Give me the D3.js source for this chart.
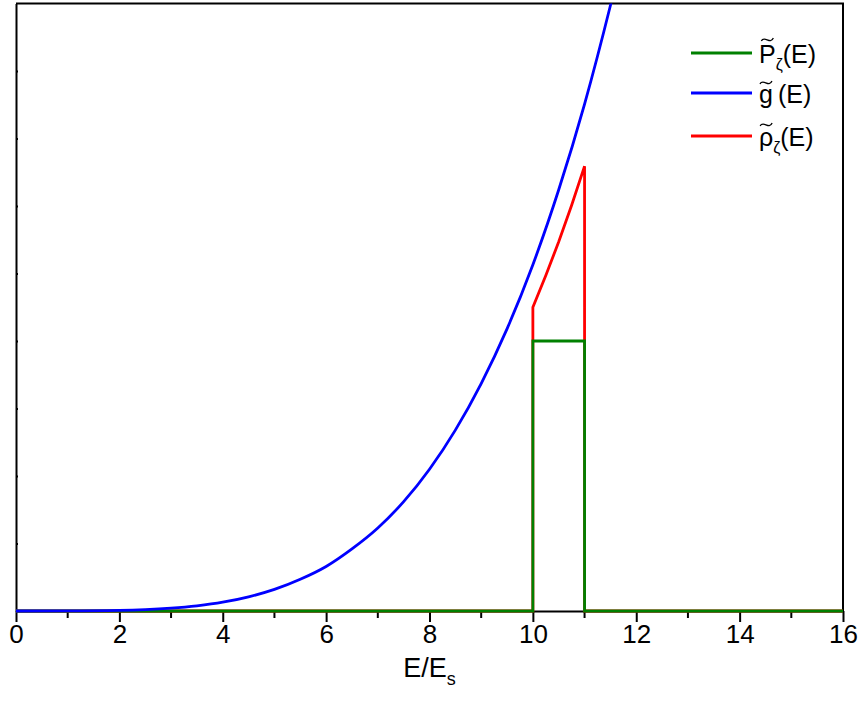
<!DOCTYPE html>
<html>
<head>
<meta charset="utf-8">
<script src="https://cdn.jsdelivr.net/npm/d3@7"></script>
<style>
  body { margin: 0; background: #fff; }
  svg { font-family: "Liberation Sans", Arial, sans-serif; }
</style>
</head>
<body>
<div id="chart"></div>
<script>
// values (y in tick units, 9 divisions on the y axis)
var gE   = [0, 1, 2, 2.5, 3, 3.5, 4, 4.5, 5, 5.5, 6, 6.5, 7, 7.5, 8, 8.5, 9, 9.5, 10, 10.5, 11, 11.5, 11.7];
var gVal = [0, 0.0005, 0.008, 0.02, 0.042, 0.077, 0.13, 0.21, 0.32, 0.47, 0.66, 0.92, 1.23, 1.62, 2.10, 2.68, 3.37, 4.18, 5.13, 6.24, 7.51, 8.97, 9.6];

var pE   = [0, 10, 10, 11, 11, 16];
var pVal = [0, 0, 4, 4, 0, 0];

var rhoE   = [0, 10, 10, 10.25, 10.5, 10.75, 11, 11, 16];
var rhoVal = [0, 0, 4.5, 4.97, 5.47, 6.01, 6.59, 0, 0];

var xMajor = [0, 2, 4, 6, 8, 10, 12, 14, 16];
var xMinor = [1, 3, 5, 7, 9, 11, 13, 15];
var yTicks = [1, 2, 3, 4, 5, 6, 7, 8];

var legendNames = ["P", "g", "\u03C1"];
var legendSubs  = ["\u03B6", "", "\u03B6"];
var tildeLift   = [14, 11, 12];
var colors = ["#008000", "#0000ff", "#ff0000"];

var w = 860, h = 719;
var margin = {top: 3.5, right: 17, bottom: 108, left: 16};

var svg = d3.select("#chart")
    .append("svg")
    .attr("width", w)
    .attr("height", h);

var xScale = d3.scaleLinear()
    .domain([0, 16])
    .range([margin.left, w - margin.right]);
var yScale = d3.scaleLinear()
    .domain([0, 9])
    .range([h - margin.bottom, margin.top]);

// clip for the curves
svg.append("defs").append("clipPath")
    .attr("id", "clip")
    .append("rect")
    .attr("x", margin.left)
    .attr("y", margin.top)
    .attr("width", xScale(16) - xScale(0))
    .attr("height", yScale(0) - yScale(9) + 3);

// frame: top and right
svg.append("path")
    .attr("d", "M" + xScale(0) + "," + yScale(9) + "H" + xScale(16) + "V" + yScale(0))
    .attr("fill", "none")
    .attr("stroke", "#000")
    .attr("stroke-width", 2);

// bottom axis
var xAxis = d3.axisBottom(xScale).tickValues(xMajor).tickSize(11).tickPadding(3).tickSizeOuter(0);
var gx = svg.append("g")
    .attr("transform", "translate(0," + yScale(0) + ")")
    .call(xAxis);
gx.select(".domain").attr("stroke-width", 2);
gx.selectAll(".tick line").attr("stroke-width", 2);
gx.selectAll(".tick text")
    .attr("font-size", 26)
    .attr("fill", "#000")
    .attr("font-family", "Liberation Sans, Arial, sans-serif");

gx.selectAll(".minor")
    .data(xMinor)
    .enter()
    .append("line")
    .attr("x1", function(d){ return xScale(d); })
    .attr("x2", function(d){ return xScale(d); })
    .attr("y1", 0)
    .attr("y2", 7)
    .attr("stroke", "#000")
    .attr("stroke-width", 2);

// left axis, small inside ticks and no labels
var yAxis = d3.axisRight(yScale).tickValues(yTicks).tickSize(2).tickFormat("").tickSizeOuter(0);
var gy = svg.append("g")
    .attr("transform", "translate(" + xScale(0) + ",0)")
    .call(yAxis);
gy.select(".domain").attr("stroke-width", 2);
gy.selectAll(".tick line").attr("stroke-width", 2);

// axis title
var title = svg.append("text")
    .attr("x", (xScale(0) + xScale(16)) / 2)
    .attr("y", 677)
    .attr("text-anchor", "middle")
    .attr("font-size", 27)
    .attr("fill", "#000");
title.append("tspan").text("E/E");
title.append("tspan").attr("font-size", 18).attr("dy", 8).text("s");

// curves
var line = d3.line()
    .x(function(d){ return xScale(d[0]); })
    .y(function(d){ return yScale(d[1]); });
var smooth = d3.line()
    .curve(d3.curveMonotoneX)
    .x(function(d){ return xScale(d[0]); })
    .y(function(d){ return yScale(d[1]); });

var plot = svg.append("g").attr("clip-path", "url(#clip)");

plot.append("path")
    .datum(d3.zip(rhoE, rhoVal))
    .attr("d", line)
    .attr("fill", "none")
    .attr("stroke", colors[2])
    .attr("stroke-width", 2.8);
plot.append("path")
    .datum(d3.zip(pE, pVal))
    .attr("d", line)
    .attr("fill", "none")
    .attr("stroke", colors[0])
    .attr("stroke-width", 2.8);
plot.append("path")
    .datum(d3.zip(gE, gVal))
    .attr("d", smooth)
    .attr("fill", "none")
    .attr("stroke", colors[1])
    .attr("stroke-width", 2.8);

// legend
var legendY = [53, 93, 136];
var leg = svg.append("g");
legendNames.forEach(function(name, i) {
    leg.append("line")
        .attr("x1", 691).attr("x2", 752)
        .attr("y1", legendY[i]).attr("y2", legendY[i])
        .attr("stroke", colors[i])
        .attr("stroke-width", 2.8);
    var t = leg.append("text")
        .attr("x", 759)
        .attr("y", legendY[i] + 10)
        .attr("font-size", 25)
        .attr("fill", "#000");
    var base = t.append("tspan").text(name);
    if (legendSubs[i]) {
        t.append("tspan").attr("font-size", 16).attr("dy", 7).text(legendSubs[i]);
        t.append("tspan").attr("dy", -7).text("(E)");
    } else {
        t.append("tspan").text("\u2009(E)");
    }
    // tilde drawn as a small wave above the letter
    var bw = base.node().getComputedTextLength();
    var cx = 759 + bw / 2, ty = legendY[i] - tildeLift[i];
    leg.append("path")
        .attr("d", "M" + (cx - 6) + "," + (ty + 2) +
                   " C" + (cx - 3) + "," + (ty - 4) + " " + (cx + 3) + "," + (ty + 6) + " " + (cx + 6) + "," + (ty - 1))
        .attr("fill", "none")
        .attr("stroke", "#000")
        .attr("stroke-width", 1.3);
});
</script>
</body>
</html>
